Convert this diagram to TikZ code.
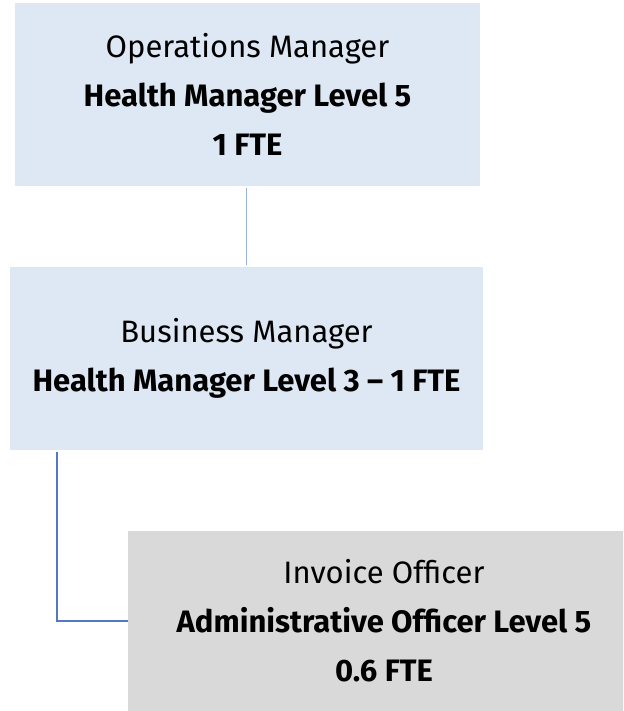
\documentclass[tikz,border=0pt]{standalone}
\usepackage{fontspec}
\setmainfont{Fira Sans}
\usetikzlibrary{calc}
\definecolor{boxblue}{HTML}{DEE8F5}
\definecolor{boxgrey}{HTML}{D9D9D9}
\definecolor{lineblue}{HTML}{9AB0DC}
\definecolor{linedark}{HTML}{5179C4}
\tikzset{
	role/.style={rectangle, inner sep=0pt, align=center, font=\fontsize{31}{49}\selectfont},
	link/.style={line width=1.6pt},
}
\begin{document}
\begin{tikzpicture}[x=1pt,y=-1pt]
		\clip (0,0) rectangle (623,711);
		\node[role, fill=boxblue, minimum width=465pt, minimum height=183pt] (ops) at (247.5,94.5) {Operations Manager\\\textbf{Health Manager Level 5}\\\textbf{1 FTE}};
		\node[role, fill=boxblue, minimum width=473pt, minimum height=183pt] (bus) at (246.5,358.5) {Business Manager\\\textbf{Health Manager Level 3 – 1 FTE}};
		\node[role, fill=boxgrey, minimum width=512pt, minimum height=180pt] (inv) at (384,621) {Invoice Officer\\\textbf{Administrative Officer Level 5}\\\textbf{0.6 FTE}};
		\draw[link, lineblue] ($(ops.south)+(-1,2)$) -- ($(bus.north)+(0,-2)$);
		\draw[link, linedark] ($(bus.south west)+(47,2)$) |- (inv.west);
	\end{tikzpicture}
\end{document}
